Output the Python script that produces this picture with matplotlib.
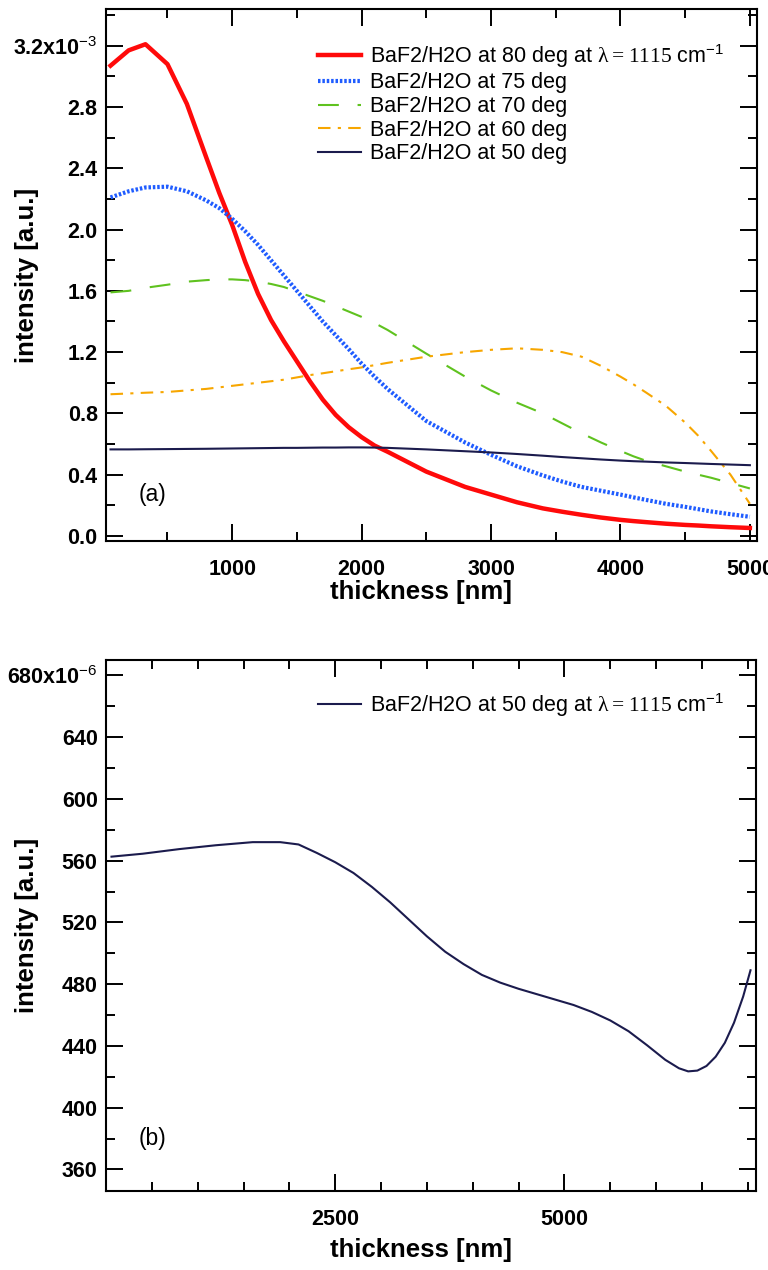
import numpy as np
import matplotlib.pyplot as plt
from matplotlib.ticker import MultipleLocator, FixedLocator, FuncFormatter

plt.rcParams["font.family"] = ["Liberation Sans", "DejaVu Sans"]
plt.rcParams["mathtext.fontset"] = "custom"
plt.rcParams["mathtext.rm"] = "Liberation Serif"
plt.rcParams["mathtext.sf"] = "Liberation Sans"
plt.rcParams["mathtext.bf"] = "Liberation Sans:bold"

# (a) intensity vs thickness, in units of 1e-3
thick = [60, 200, 330, 500, 650, 800, 900, 1000, 1100, 1200, 1300, 1400, 1500, 1600, 1700,
         1800, 1900, 2000, 2100, 2200, 2500, 2800, 3000, 3200, 3400, 3550, 3700, 3850, 4000,
         4100, 4200, 4350, 4500, 4600, 4700, 4850, 5000]
deg80 = [3.07, 3.17, 3.21, 3.08, 2.82, 2.47, 2.24, 2.03, 1.79, 1.58, 1.41, 1.27, 1.14, 1.01,
         0.89, 0.79, 0.71, 0.645, 0.59, 0.55, 0.42, 0.32, 0.27, 0.22, 0.18, 0.158, 0.138,
         0.12, 0.105, 0.097, 0.09, 0.08, 0.072, 0.068, 0.063, 0.057, 0.052]
deg75 = [2.21, 2.25, 2.275, 2.28, 2.25, 2.19, 2.14, 2.07, 1.99, 1.90, 1.80, 1.70, 1.60, 1.50,
         1.40, 1.31, 1.22, 1.125, 1.04, 0.96, 0.75, 0.61, 0.53, 0.455, 0.395, 0.355, 0.32,
         0.295, 0.27, 0.252, 0.235, 0.21, 0.19, 0.175, 0.16, 0.142, 0.125]
deg70 = [1.59, 1.60, 1.62, 1.64, 1.66, 1.67, 1.675, 1.675, 1.67, 1.66, 1.645, 1.625, 1.595,
         1.565, 1.535, 1.50, 1.465, 1.43, 1.39, 1.345, 1.19, 1.04, 0.95, 0.87, 0.80, 0.735,
         0.67, 0.61, 0.555, 0.52, 0.49, 0.455, 0.42, 0.40, 0.38, 0.345, 0.31]
deg60 = [0.925, 0.93, 0.935, 0.94, 0.95, 0.96, 0.97, 0.98, 0.99, 1.0, 1.01, 1.02, 1.035, 1.05,
         1.062, 1.075, 1.088, 1.10, 1.115, 1.13, 1.17, 1.20, 1.215, 1.225, 1.215, 1.20, 1.17,
         1.11, 1.04, 0.99, 0.935, 0.85, 0.74, 0.655, 0.555, 0.40, 0.21]
deg50 = [0.565, 0.565, 0.566, 0.567, 0.568, 0.569, 0.570, 0.571, 0.572, 0.573, 0.574, 0.575,
         0.575, 0.576, 0.577, 0.577, 0.578, 0.578, 0.577, 0.575, 0.565, 0.553, 0.545, 0.535,
         0.524, 0.515, 0.507, 0.499, 0.492, 0.488, 0.485, 0.48, 0.476, 0.473, 0.470, 0.466,
         0.462]

# (b) 50 deg only, in units of 1e-6
thick_b = [60, 400, 800, 1200, 1600, 1900, 2100, 2300, 2500, 2700, 2900, 3100, 3300, 3500,
           3700, 3900, 4100, 4300, 4500, 4700, 4900, 5100, 5300, 5500, 5700, 5900, 6100,
           6250, 6350, 6450, 6550, 6650, 6750, 6850, 6950, 7030]
deg50_b = [562.6, 564.5, 567.5, 570, 572, 572, 570.5, 565, 559, 552, 543, 533, 522, 511,
           501, 493, 486, 481, 477, 473.5, 470, 466.5, 462, 456.5, 449.5, 440.5, 431,
           425.5, 423.5, 424, 427, 433, 442, 455, 472, 489]

lab80 = r"BaF2/H2O at 80 deg at $\mathrm{\lambda = 1115}$ cm$^{\mathsf{-1}}$"
lab50b = r"BaF2/H2O at 50 deg at $\mathrm{\lambda = 1115}$ cm$^{\mathsf{-1}}$"


def style(ax):
    ax.tick_params(which="both", direction="in", top=True, right=True, width=1.4,
                   labelsize=15.5)
    ax.tick_params(which="major", length=12)
    ax.tick_params(which="minor", length=6.5)
    ax.tick_params(axis="x", pad=13)
    ax.tick_params(axis="y", pad=6)
    for s in ax.spines.values():
        s.set_linewidth(1.5)
    plt.setp(ax.get_xticklabels(), fontweight="bold")
    plt.setp(ax.get_yticklabels(), fontweight="bold")


fig = plt.figure(figsize=(7.68, 12.70), dpi=100)

# ---- panel (a)
ax1 = fig.add_axes([106 / 768, 1 - 541 / 1270, 651 / 768, 532 / 1270])
ax1.plot(thick, deg80, color="#ff0a0a", lw=3.2, label=lab80)
ax1.plot(thick, deg75, color="#1f5cff", lw=3.0, dashes=(0.6, 0.45),
         label="BaF2/H2O at 75 deg")
ax1.plot(thick, deg70, color="#5fc21f", lw=1.5, dashes=(10, 9),
         label="BaF2/H2O at 70 deg")
ax1.plot(thick, deg60, color="#f7a600", lw=1.5, dashes=(6, 3.5, 1.5, 3.5),
         label="BaF2/H2O at 60 deg")
ax1.plot(thick, deg50, color="#1b1b4d", lw=1.5, label="BaF2/H2O at 50 deg")
ax1.set_xlim(25, 5055)
ax1.set_ylim(-0.033, 3.44)
ax1.xaxis.set_major_locator(MultipleLocator(1000))
ax1.xaxis.set_minor_locator(MultipleLocator(500))
ax1.yaxis.set_major_locator(MultipleLocator(0.4))
ax1.yaxis.set_minor_locator(MultipleLocator(0.2))
ax1.yaxis.set_major_formatter(FuncFormatter(
    lambda v, p: r"3.2x10$^{\mathsf{-3}}$" if abs(v - 3.2) < 1e-6 else f"{v:.1f}"))
style(ax1)
ax1.legend(loc="upper left", bbox_to_anchor=(318 / 768, 1 - 42 / 1270),
           bbox_transform=fig.transFigure, frameon=False, borderpad=0,
           borderaxespad=0, handlelength=2.0, handletextpad=0.4, labelspacing=0.12,
           prop={"size": 15.5})
fig.text(153 / 768, 1 - 495 / 1270, "(a)", fontsize=16.5, ha="center", va="center")

# ---- panel (b)
ax2 = fig.add_axes([106 / 768, 1 - 1191 / 1270, 650 / 768, 531 / 1270])
ax2.plot(thick_b, deg50_b, color="#1b1b4d", lw=1.5, label=lab50b)
ax2.set_xlim(0, 7090)
ax2.set_ylim(346, 690)
ax2.xaxis.set_major_locator(FixedLocator([2500, 5000]))
ax2.xaxis.set_minor_locator(MultipleLocator(500))
ax2.yaxis.set_major_locator(MultipleLocator(40))
ax2.yaxis.set_minor_locator(MultipleLocator(20))
ax2.yaxis.set_major_formatter(FuncFormatter(
    lambda v, p: r"680x10$^{\mathsf{-6}}$" if abs(v - 680) < 1e-6 else f"{v:.0f}"))
style(ax2)
ax2.legend(loc="upper left", bbox_to_anchor=(318 / 768, 1 - 691 / 1270),
           bbox_transform=fig.transFigure, frameon=False, borderpad=0,
           borderaxespad=0, handlelength=2.0, handletextpad=0.4,
           prop={"size": 15.5})
fig.text(153 / 768, 1 - 1138 / 1270, "(b)", fontsize=16.5, ha="center", va="center")

# axis titles
for yc in (275, 925):
    fig.text(27 / 768, 1 - yc / 1270, "intensity [a.u.]", rotation=90, fontsize=18.5,
             weight="bold", ha="center", va="center")
for yc in (592, 1250):
    fig.text(421 / 768, 1 - yc / 1270, "thickness [nm]", fontsize=18.5, weight="bold",
             ha="center", va="center")

fig.savefig("out.png", dpi=100)
